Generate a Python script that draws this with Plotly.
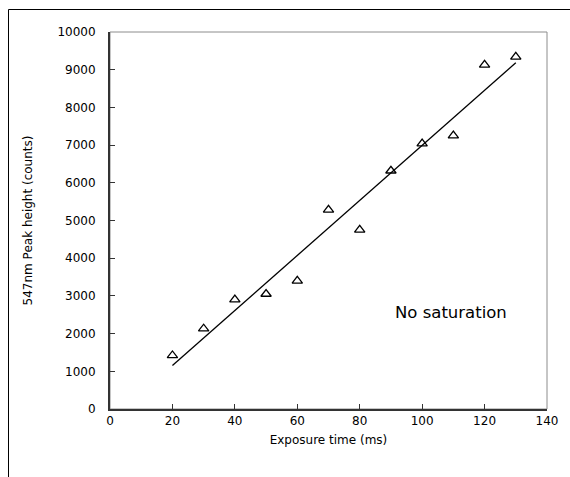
import numpy as np
import plotly.graph_objects as go

exposure_ms = [20, 30, 40, 50, 60, 70, 80, 90, 100, 110, 120, 130]
peak_counts = [1420, 2130, 2900, 3050, 3400, 5280, 4750, 6320, 7040, 7250, 9130, 9340]
x_ticks = [0, 20, 40, 60, 80, 100, 120, 140]
y_ticks = list(range(0, 10001, 1000))
y_tick_text = [str(v) for v in y_ticks]

slope, intercept = np.polyfit(exposure_ms, peak_counts, 1)
fit_x = [exposure_ms[0], exposure_ms[-1]]
fit_y = [slope * v + intercept for v in fit_x]

FONT = "DejaVu Sans"

fig = go.Figure()
fig.add_trace(go.Scatter(x=fit_x, y=fit_y, mode="lines",
                         line=dict(color="black", width=1.3), showlegend=False))
fig.add_trace(go.Scatter(x=exposure_ms, y=peak_counts, mode="markers",
                         marker=dict(symbol="triangle-up-open", size=9, color="black",
                                     line=dict(color="black", width=1.3)),
                         showlegend=False))

# plot box (gray top/right)
fig.add_shape(type="rect", xref="paper", yref="paper", x0=0, y0=0, x1=1, y1=1,
              line=dict(color="#8c8c8c", width=1), layer="below")
# outer chart frame (top and left visible)
L, T, W, H = 110, 32, 437, 377
def px(xp):
    return (xp - L) / W
def py(yp):
    return 1 - (yp - T) / H
fig.add_shape(type="line", xref="paper", yref="paper", x0=px(8.5), x1=px(600), y0=py(9.5), y1=py(9.5),
              line=dict(color="black", width=1))
fig.add_shape(type="line", xref="paper", yref="paper", x0=px(8.5), x1=px(8.5), y0=py(9.5), y1=py(600),
              line=dict(color="black", width=1))

fig.add_annotation(x=109.3, y=2550, xref="x", yref="y", text="No saturation", showarrow=False,
                   font=dict(family=FONT, size=16.5, color="black"))

fig.update_xaxes(range=[0, 140], tickvals=x_ticks, showgrid=False, zeroline=False,
                 showline=True, linecolor="#333333", linewidth=2,
                 ticks="inside", ticklen=5, tickcolor="#333333", tickwidth=1,
                 tickfont=dict(family=FONT, size=12, color="black"),
                 title=dict(text="Exposure time (ms)", font=dict(family=FONT, size=12, color="black"),
                            standoff=8))
fig.update_yaxes(range=[0, 10000], tickvals=y_ticks, ticktext=y_tick_text, showgrid=False, zeroline=False,
                 showline=True, linecolor="#333333", linewidth=2,
                 ticks="inside", ticklen=5, tickcolor="#333333", tickwidth=1,
                 tickfont=dict(family=FONT, size=12, color="black"), ticklabelstandoff=10,
                 title=dict(text="547nm Peak height (counts)", font=dict(family=FONT, size=12, color="black"),
                            standoff=22))

fig.update_layout(width=570, height=477, margin=dict(l=L, r=570 - L - W, t=T, b=477 - T - H),
                  plot_bgcolor="white", paper_bgcolor="white")

fig.write_html("out.html")
